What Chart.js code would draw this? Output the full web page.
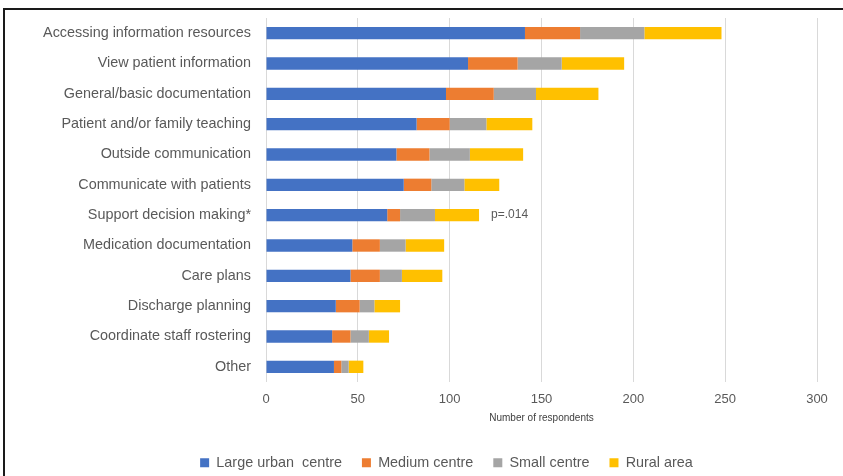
<!DOCTYPE html>
<html>
<head>
<meta charset="utf-8">
<script src="https://cdn.jsdelivr.net/npm/chart.js@4.4.1/dist/chart.umd.min.js"></script>
<style>
  html, body { margin: 0; padding: 0; background: #ffffff; }
  #wrap { position: relative; width: 843px; height: 476px; overflow: hidden; }
  #frame { position: absolute; left: 3px; top: 8px; width: 900px; height: 600px;
           border-left: 2px solid #1a1a1a; border-top: 2px solid #1a1a1a; box-sizing: border-box; }
  canvas { position: absolute; left: 0; top: 0; }
</style>
</head>
<body>
<div id="wrap">
  <div id="frame"></div>
  <canvas id="c" width="843" height="476"></canvas>
</div>
<script>
const categories = [
  "Accessing information resources",
  "View patient information",
  "General/basic documentation",
  "Patient and/or family teaching",
  "Outside communication",
  "Communicate with patients",
  "Support decision making*",
  "Medication documentation",
  "Care plans",
  "Discharge planning",
  "Coordinate staff rostering",
  "Other"
];
const largeUrban = [141, 110, 98, 82, 71, 75, 66, 47, 46, 38, 36, 37];
const mediumCentre = [30, 27, 26, 18, 18, 15, 7, 15, 16, 13, 10, 4];
const smallCentre = [35, 24, 23, 20, 22, 18, 19, 14, 12, 8, 10, 4];
const ruralArea = [42, 34, 34, 25, 29, 19, 24, 21, 22, 14, 11, 8];
const seriesNames = ["Large urban  centre", "Medium centre", "Small centre", "Rural area"];
const xTicks = [0, 50, 100, 150, 200, 250, 300];
const annotations = [{ category: "Support decision making*", text: "p=.014" }];

const FONT = "'Liberation Sans', 'DejaVu Sans', sans-serif";

const annotationPlugin = {
  id: 'pvalue',
  afterLayout(chart) {
    // shift legend slightly right, as in the original
    if (chart.legend) { chart.legend.left += 38; chart.legend.right += 38; }
  },
  afterDatasetsDraw(chart) {
    const ctx = chart.ctx;
    const xs = chart.scales.x, ys = chart.scales.y;
    annotations.forEach(a => {
      const i = categories.indexOf(a.category);
      const total = largeUrban[i] + mediumCentre[i] + smallCentre[i] + ruralArea[i];
      ctx.save();
      ctx.font = "12px " + FONT;
      ctx.fillStyle = "#595959";
      ctx.textAlign = "left";
      ctx.textBaseline = "middle";
      ctx.fillText(a.text, xs.getPixelForValue(total) + 12, ys.getPixelForValue(i));
      ctx.restore();
    });
  }
};

const colors = ["#4472C4", "#ED7D31", "#A5A5A5", "#FFC000"];
const data = [largeUrban, mediumCentre, smallCentre, ruralArea];

new Chart(document.getElementById('c'), {
  type: 'bar',
  data: {
    labels: categories,
    datasets: data.map((d, k) => ({
      label: seriesNames[k],
      data: d,
      backgroundColor: colors[k],
      borderWidth: 0,
      categoryPercentage: 0.8,
      barPercentage: 0.51
    }))
  },
  options: {
    indexAxis: 'y',
    responsive: false,
    animation: false,
    devicePixelRatio: 1,
    layout: { padding: { left: 0, right: 26, top: 18, bottom: -4 } },
    scales: {
      x: {
        stacked: true,
        min: 0, max: 300,
        afterBuildTicks(s) { s.ticks = xTicks.map(v => ({ value: v })); },
        grid: { color: '#d9d9d9', lineWidth: 1, drawTicks: false },
        border: { display: false },
        ticks: { color: '#595959', font: { family: FONT, size: 13 }, padding: 10 },
        title: { display: true, text: 'Number of respondents', color: '#404040',
                 font: { family: FONT, size: 10 }, padding: { top: -5, bottom: 11 } }
      },
      y: {
        stacked: true,
        afterFit(s) { s.width = 266; s.paddingTop = 0; s.paddingBottom = 0; },
        grid: { display: false, drawTicks: false },
        border: { display: false },
        ticks: { color: '#595959', font: { family: FONT, size: 14.4 }, padding: 15 }
      }
    },
    plugins: {
      legend: {
        position: 'bottom',
        labels: { color: '#595959', font: { family: FONT, size: 14.4 }, boxWidth: 9, boxHeight: 9, padding: 20 }
      },
      tooltip: { enabled: false }
    }
  },
  plugins: [annotationPlugin]
});
</script>
</body>
</html>
